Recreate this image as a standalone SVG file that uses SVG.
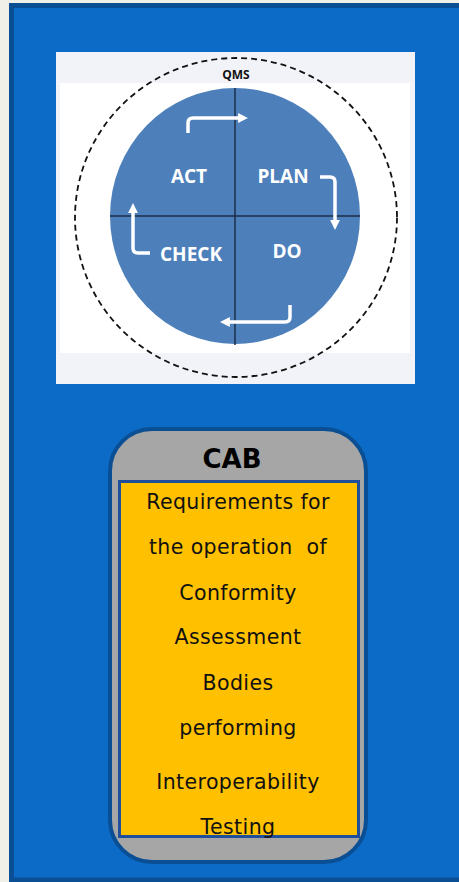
<svg xmlns="http://www.w3.org/2000/svg" width="459" height="882" viewBox="0 0 459 882">
<defs>
<style>
.lbl{font-family:"DejaVu Sans",Verdana,sans-serif;font-size:20.5px;letter-spacing:0.4px;fill:#111;text-anchor:middle;white-space:pre}
.pd{font-family:"Open Sans","Liberation Sans",sans-serif;font-weight:bold;font-size:19px;fill:#fff;text-anchor:middle}
.arr{fill:none;stroke:#fff;stroke-width:3.5;stroke-linejoin:round}
</style>
<marker id="ah" viewBox="0 0 10 10" refX="6" refY="5" markerWidth="2.8" markerHeight="2.8" orient="auto" markerUnits="strokeWidth">
<path d="M0,0 L10,5 L0,10 z" fill="#fff"/>
</marker>
</defs>
<rect x="0" y="0" width="459" height="882" fill="#f1f0e8"/>
<rect x="11.5" y="5.5" width="460" height="874.5" fill="#0c6bc6" stroke="#0a4f94" stroke-width="5"/>
<g id="pdca">
<rect x="56" y="52" width="359" height="332" fill="#f2f3f8"/>
<rect x="60" y="83" width="350" height="270" fill="#fff"/>
<ellipse cx="236" cy="217.5" rx="161" ry="159.5" fill="none" stroke="#111" stroke-width="1.8" stroke-dasharray="6,4"/>
<text x="236" y="79" font-family="Open Sans,Liberation Sans,sans-serif" font-weight="bold" font-size="12" fill="#111" text-anchor="middle">QMS</text>
<ellipse cx="235" cy="216" rx="125" ry="128" fill="#4d7fbb"/>
<line x1="235" y1="88" x2="235" y2="345" stroke="#1c2e4a" stroke-width="1.5"/>
<line x1="110" y1="216" x2="360" y2="216" stroke="#1c2e4a" stroke-width="1.5"/>
<text class="pd" x="189" y="183">ACT</text>
<text class="pd" x="283" y="183">PLAN</text>
<text class="pd" x="191" y="261">CHECK</text>
<text class="pd" x="287" y="258">DO</text>
</g>
<g id="connectors">
<path class="arr" d="M188,133 V123 Q188,118 193,118 H244" marker-end="url(#ah)"/>
<path class="arr" d="M320,177 H330 Q335,177 335,182 V226" marker-end="url(#ah)"/>
<path class="arr" d="M290,305 V317 Q290,322 285,322 H224" marker-end="url(#ah)"/>
<path class="arr" d="M150,253 H138 Q133,253 133,248 V207" marker-end="url(#ah)"/>
</g>
<g id="cab">
<rect x="110" y="429" width="256" height="433" rx="42" ry="42" fill="#a6a6a6" stroke="#0a4f94" stroke-width="4"/>
<text x="232" y="468" font-family="DejaVu Sans,Verdana,sans-serif" font-weight="bold" font-size="26" fill="#000" text-anchor="middle">CAB</text>
<rect x="119.5" y="481.5" width="239" height="355" fill="#ffc000" stroke="#1f4e9a" stroke-width="3"/>
<text class="lbl" x="238" y="509">Requirements for</text>
<text class="lbl" x="238" y="554">the operation  of</text>
<text class="lbl" x="238" y="600">Conformity</text>
<text class="lbl" x="238" y="644">Assessment</text>
<text class="lbl" x="238" y="690">Bodies</text>
<text class="lbl" x="238" y="735">performing</text>
<text class="lbl" x="238" y="789">Interoperability</text>
<text class="lbl" x="238" y="834">Testing</text>
</g>
</svg>
